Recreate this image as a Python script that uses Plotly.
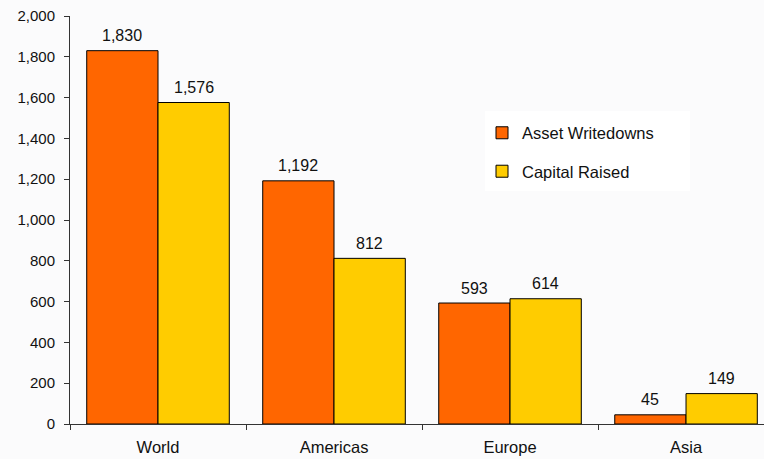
import plotly.graph_objects as go

categories = ["World", "Americas", "Europe", "Asia"]
asset_writedowns = [1830, 1192, 593, 45]
capital_raised = [1576, 812, 614, 149]
series_names = ["Asset Writedowns", "Capital Raised"]
colors = ["#FF6600", "#FFCC00"]

W, H = 764, 459
ML, MR, MT, MB = 70, 0, 16, 35
XMAX = 3.443
BARGAP = 0.19
cat_px = (W - ML - MR) / (XMAX + 0.5)
bar_px = cat_px * (1 - BARGAP) / 2

fig = go.Figure()
series = [asset_writedowns, capital_raised]
for i, (name, vals) in enumerate(zip(series_names, series)):
    fig.add_trace(go.Bar(
        x=categories, y=vals, name=name, legendgroup=name,
        marker=dict(color=colors[i], line=dict(color="#000000", width=1)),
    ))
    for c, v in zip(categories, vals):
        fig.add_annotation(x=c, y=v, xref="x", yref="y", text=f"{v:,}",
                           showarrow=False, yanchor="middle", yshift=15,
                           xshift=(i - 0.5) * bar_px,
                           font=dict(size=16, color="#111111"))

# legend background box
fig.add_shape(type="rect", xref="paper", yref="paper",
              x0=(485 - ML) / (W - ML - MR), x1=(690 - ML) / (W - ML - MR),
              y0=(H - MB - 191) / (H - MT - MB), y1=(H - MB - 111) / (H - MT - MB),
              fillcolor="#FFFFFF", line=dict(width=0), layer="below")

fig.update_layout(
    width=W, height=H,
    margin=dict(l=ML, r=MR, t=MT, b=MB),
    paper_bgcolor="#FBFBFC", plot_bgcolor="rgba(0,0,0,0)",
    font=dict(family="Liberation Sans, Arial, sans-serif", size=15, color="#111111"),
    barmode="group", bargap=BARGAP, bargroupgap=0,
    showlegend=True,
    legend=dict(x=(482 - ML) / (W - ML - MR), y=0.756, xanchor="left", yanchor="top",
                bgcolor="rgba(0,0,0,0)", borderwidth=0, tracegroupgap=14,
                font=dict(size=16.5), itemwidth=30),
)
fig.update_xaxes(range=[-0.5, XMAX], showline=True, linecolor="#333333", linewidth=1,
                 ticks="outside", tickson="boundaries", ticklen=5, tickcolor="#333333",
                 showgrid=False, ticklabelstandoff=8, tickfont=dict(size=16.5))
fig.update_yaxes(range=[0, 2000], dtick=200, tickformat=",", showline=True,
                 linecolor="#333333", linewidth=1, ticks="outside", ticklen=5,
                 tickcolor="#333333", showgrid=False, zeroline=False,
                 ticklabelstandoff=6, tickfont=dict(size=15))

fig.write_html("out.html")
